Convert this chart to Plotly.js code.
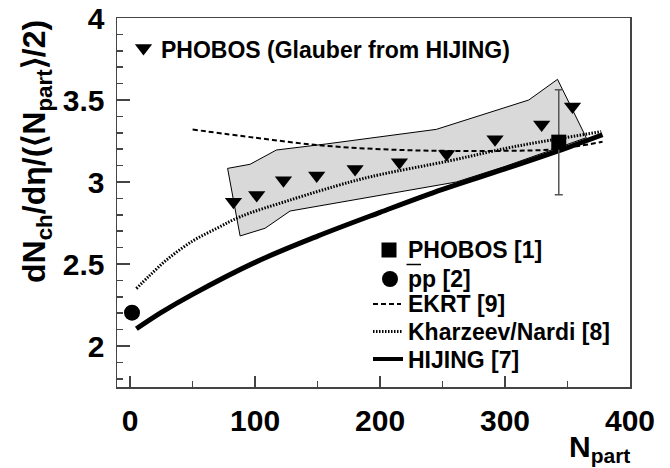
<!DOCTYPE html>
<html><head><meta charset="utf-8">
<script src="https://cdn.plot.ly/plotly-3.0.1.min.js"></script>
<style>html,body{margin:0;padding:0;background:#fff}#chart{width:670px;height:468px}</style>
</head><body><div id="chart"></div>
<script>
// ---------------- data ----------------
const phobosGlauberX = [82.7, 101.3, 122.7, 149.3, 180, 215.5, 253.3, 292, 329.3, 354];
const phobosGlauberY = [2.88, 2.92, 3.01, 3.04, 3.08, 3.12, 3.17, 3.26, 3.35, 3.46];

const bandUpperX = [78, 96, 117, 157, 245, 319, 342, 365];
const bandUpperY = [3.083, 3.108, 3.195, 3.232, 3.321, 3.50, 3.626, 3.27];
const bandLowerX = [300, 261, 128, 108, 88, 78];
const bandLowerY = [3.095, 3.0, 2.823, 2.718, 2.671, 3.083];

const phobos1X = [343];
const phobos1Y = [3.243];
const phobos1Err = [0.32];

const ppX = [1.5];
const ppY = [2.203];

const ekrtX = [50, 100, 150, 200, 250, 300, 340, 378];
const ekrtY = [3.32, 3.27, 3.225, 3.2, 3.19, 3.19, 3.2, 3.245];

const knX = [5, 15, 30, 50, 70, 88, 128, 176, 200, 256, 307, 377];
const knY = [2.35, 2.425, 2.53, 2.64, 2.72, 2.788, 2.89, 3.0, 3.045, 3.13, 3.215, 3.307];

const hijingX = [5, 25, 50, 100, 150, 200, 250, 300, 350, 378];
const hijingY = [2.105, 2.205, 2.315, 2.51, 2.67, 2.815, 2.955, 3.08, 3.21, 3.288];

const topLegendLabel = 'PHOBOS (Glauber from HIJING)';
const legendLabels = ['PHOBOS [1]', 'pp [2]', 'EKRT [9]', 'Kharzeev/Nardi [8]', 'HIJING [7]'];
const xTitle = 'N<sub>part</sub>';
const yTitle = 'dN<sub>ch</sub>/d\u03b7/(\u27e8N<sub>part</sub>\u27e9/2)';

// ---------------- layout helpers ----------------
const W = 670, H = 468, ML = 117, MR = 40, MT = 18, MB = 81;
const PW = W - ML - MR, PH = H - MT - MB;
const fx = px => (px - ML) / PW;
const fy = py => (H - MB - py) / PH;

const FONT = 'Liberation Sans, Arial, Helvetica, sans-serif';
const INK = '#000';
const AXC = '#444';

const traces = [
  { // grey systematic band
    x: bandUpperX.concat(bandLowerX), y: bandUpperY.concat(bandLowerY),
    mode: 'lines', fill: 'toself', fillcolor: '#d9d9d9',
    line: {color: INK, width: 1}, hoverinfo: 'skip'
  },
  {x: hijingX, y: hijingY, mode: 'lines', line: {color: INK, width: 5, shape: 'spline', smoothing: 1}},
  {x: knX, y: knY, mode: 'lines', line: {color: INK, width: 3, dash: '1.5px,1.5px', shape: 'spline', smoothing: 1}},
  {x: ekrtX, y: ekrtY, mode: 'lines', line: {color: INK, width: 2, dash: '5px,3px', shape: 'spline', smoothing: 1}},
  {x: phobosGlauberX, y: phobosGlauberY, mode: 'markers',
   marker: {symbol: 'triangle-down', size: 15, color: INK}},
  {x: phobos1X, y: phobos1Y, mode: 'markers',
   marker: {symbol: 'square', size: 15, color: INK},
   error_y: {type: 'data', array: phobos1Err, visible: true, color: '#555', thickness: 1.5, width: 4}},
  {x: ppX, y: ppY, mode: 'markers', marker: {symbol: 'circle', size: 16, color: INK}, cliponaxis: false},
  // legend keys (drawn on a hidden 0..1 overlay axis)
  {x: [fx(143.5)], y: [fy(48)], xaxis: 'x2', yaxis: 'y2', mode: 'markers',
   marker: {symbol: 'triangle-down', size: 15, color: INK}},
  {x: [fx(389)], y: [fy(250)], xaxis: 'x2', yaxis: 'y2', mode: 'markers',
   marker: {symbol: 'square', size: 15, color: INK}},
  {x: [fx(390)], y: [fy(279)], xaxis: 'x2', yaxis: 'y2', mode: 'markers',
   marker: {symbol: 'circle', size: 16, color: INK}},
  {x: [fx(373), fx(401)], y: [fy(304), fy(304)], xaxis: 'x2', yaxis: 'y2', mode: 'lines',
   line: {color: INK, width: 2, dash: '5px,3px'}},
  {x: [fx(373), fx(402)], y: [fy(331.5), fy(331.5)], xaxis: 'x2', yaxis: 'y2', mode: 'lines',
   line: {color: INK, width: 3, dash: '1.5px,1.5px'}},
  {x: [fx(373), fx(403)], y: [fy(359), fy(359)], xaxis: 'x2', yaxis: 'y2', mode: 'lines',
   line: {color: INK, width: 4}}
];

const legendRowsY = [250, 278.5, 304, 331.5, 359.5];
const annotations = [
  {xref: 'paper', yref: 'paper', x: fx(159), y: fy(50.5), xanchor: 'left', yanchor: 'middle',
   text: topLegendLabel, showarrow: false, font: {family: FONT, size: 23, color: INK, weight: 'bold'}},
  ...legendLabels.map((t, i) => ({
    xref: 'paper', yref: 'paper', x: fx(406), y: fy(legendRowsY[i]), xanchor: 'left', yanchor: 'middle',
    text: t, showarrow: false, font: {family: FONT, size: 23, color: INK, weight: 'bold'}
  })),
  {xref: 'paper', yref: 'paper', x: fx(632), y: fy(428), xanchor: 'right', yanchor: 'top',
   text: xTitle, showarrow: false, font: {family: FONT, size: 30, color: INK, weight: 'bold'}},
  {xref: 'paper', yref: 'paper', x: fx(36), y: fy(152), xanchor: 'center', yanchor: 'middle',
   textangle: -90, text: yTitle, showarrow: false, font: {family: FONT, size: 32, color: INK, weight: 'bold'}}
];

const shapes = [
  {type: 'line', xref: 'paper', yref: 'paper', x0: fx(406.5), x1: fx(421), y0: fy(264.5), y1: fy(264.5),
   line: {color: INK, width: 1.5}}
];

const layout = {
  width: W, height: H,
  margin: {l: ML, r: MR, t: MT, b: MB, pad: 0},
  paper_bgcolor: '#fff', plot_bgcolor: '#fff',
  showlegend: false,
  font: {family: FONT, color: INK},
  xaxis: {
    range: [-10.5, 400], showgrid: false, zeroline: false,
    showline: true, mirror: true, linecolor: AXC, linewidth: 1.5,
    tickmode: 'linear', tick0: 0, dtick: 100,
    ticks: 'inside', ticklen: 11, tickwidth: 1.5, tickcolor: AXC,
    minor: {dtick: 50, tick0: 0, ticks: 'inside', ticklen: 6, tickwidth: 1.5, tickcolor: AXC},
    tickfont: {family: FONT, size: 30, color: INK, weight: 'bold'},
    ticklabelstandoff: 6
  },
  yaxis: {
    range: [1.75, 4], showgrid: false, zeroline: false,
    showline: true, mirror: true, linecolor: AXC, linewidth: 1.5,
    tickmode: 'linear', tick0: 2, dtick: 0.5,
    ticks: 'inside', ticklen: 13, tickwidth: 1.5, tickcolor: AXC,
    minor: {dtick: 0.1, tick0: 2, ticks: 'inside', ticklen: 6, tickwidth: 1.5, tickcolor: AXC},
    tickfont: {family: FONT, size: 30, color: INK, weight: 'bold'},
    ticklabelstandoff: 5
  },
  xaxis2: {overlaying: 'x', range: [0, 1], visible: false, fixedrange: true},
  yaxis2: {overlaying: 'y', range: [0, 1], visible: false, fixedrange: true},
  annotations: annotations,
  shapes: shapes
};

Plotly.newPlot('chart', traces, layout, {staticPlot: true, displayModeBar: false});
</script></body></html>
